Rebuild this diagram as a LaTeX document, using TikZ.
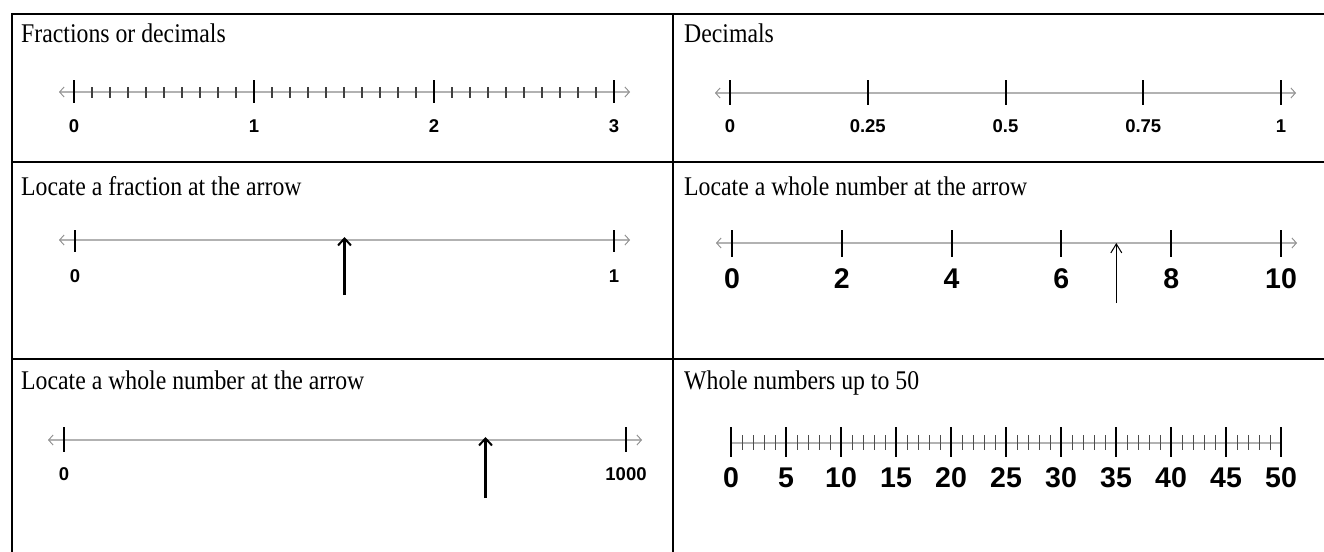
\documentclass[tikz,border=0pt]{standalone}
\usepackage{fontspec}
\usepackage{graphicx}
\setmainfont{Liberation Serif}
\newfontfamily\labfont{Liberation Sans}
\usetikzlibrary{arrows.meta}
\newcommand{\ttl}[1]{\scalebox{0.88}[1]{#1}}
\begin{document}
\begin{tikzpicture}[x=1pt,y=-1pt,
  gridline/.style={black,line width=2.5pt},
  numline/.style={draw=black!30,line width=2pt},
  endtips/.style={{Straight Barb[length=4.5pt,width=10pt,line width=0.9pt,color=black!45]}-{Straight Barb[length=4.5pt,width=10pt,line width=0.9pt,color=black!45]}},
  majortick/.style={black,line width=2pt},
  minortick/.style={black!75,line width=1.3pt},
  thinminor/.style={black!70,line width=1pt},
  titletext/.style={font=\fontsize{27}{32}\selectfont,anchor=base west,inner sep=0pt},
  smalllab/.style={font=\labfont\bfseries\fontsize{18.5}{20}\selectfont,anchor=base,inner sep=0pt},
  biglab/.style={font=\labfont\bfseries\fontsize{28.5}{30}\selectfont,anchor=base,inner sep=0pt},
  thickpointer/.style={black,line width=2.4pt,-{Straight Barb[length=7pt,width=13pt,line width=2pt]}},
  thinpointer/.style={black,line width=1pt,-{Straight Barb[length=9pt,width=11pt,line width=1pt]}}
]
\useasboundingbox (0,0) rectangle (1324,551);
\fill[white] (0,0) rectangle (1324,551);

% table grid
\draw[gridline] (12,14) -- (1330,14);
\draw[gridline] (12,162) -- (1330,162);
\draw[gridline] (12,359) -- (1330,359);
\draw[gridline] (12,13) -- (12,560);
\draw[gridline] (673,13) -- (673,560);

% titles
\node[titletext] (t1) at (21,42) {\ttl{Fractions or decimals}};
\node[titletext] (t2) at (684,42) {\ttl{Decimals}};
\node[titletext] (t3) at (21,195) {\ttl{Locate a fraction at the arrow}};
\node[titletext] (t4) at (684,195) {\ttl{Locate a whole number at the arrow}};
\node[titletext] (t5) at (21,389) {\ttl{Locate a whole number at the arrow}};
\node[titletext] (t6) at (684,389) {\ttl{Whole numbers up to 50}};

% ---- cell 1: 0 to 3 with tenths
\draw[numline,endtips] (59,92) -- (630,92);
\foreach \k in {0,1,2}{
  \foreach \i in {1,...,9}{
    \draw[minortick] ({74+180*\k+18*\i},87) -- ({74+180*\k+18*\i},98);
  }
}
\foreach \k/\lab in {0/0,1/1,2/2,3/3}{
  \draw[majortick] ({74+180*\k},80) -- ({74+180*\k},103);
  \node[smalllab] (a\k) at ({74+180*\k},132) {\lab};
}

% ---- cell 2: decimals
\draw[numline,endtips] (715,93) -- (1296,93);
\foreach \k/\lab in {0/0,1/0.25,2/0.5,3/0.75,4/1}{
  \draw[majortick] ({730+137.75*\k},80) -- ({730+137.75*\k},105);
  \node[smalllab] (b\k) at ({730+137.75*\k},132) {\lab};
}

% ---- cell 3: fraction at arrow
\draw[numline,endtips] (59,240) -- (630,240);
\draw[majortick] (75,230) -- (75,252);
\draw[majortick] (614,230) -- (614,252);
\node[smalllab] (c0) at (75,282) {0};
\node[smalllab] (c1) at (614,282) {1};
\coordinate (c3tail) at (344.5,295);
\coordinate (c3tip) at (344.5,237);
\draw[thickpointer] (c3tail) -- (c3tip);

% ---- cell 4: 0 to 10 by 2
\draw[numline,endtips] (716,243) -- (1297,243);
\foreach \k/\lab in {0/0,1/2,2/4,3/6,4/8,5/10}{
  \draw[majortick] ({732+109.8*\k},230) -- ({732+109.8*\k},257);
  \node[biglab] (d\k) at ({732+109.8*\k},288) {\lab};
}
\coordinate (d4tail) at (1116.3,303);
\coordinate (d4tip) at (1116.3,243);
\draw[thinpointer] (d4tail) -- (d4tip);

% ---- cell 5: 0 to 1000
\draw[numline,endtips] (48,440) -- (642,440);
\draw[majortick] (64,427) -- (64,452);
\draw[majortick] (626,427) -- (626,452);
\node[smalllab] (e0) at (64,480) {0};
\node[smalllab] (e1) at (626,480) {1000};
\coordinate (e5tail) at (485.5,498);
\coordinate (e5tip) at (485.5,437);
\draw[thickpointer] (e5tail) -- (e5tip);

% ---- cell 6: 0 to 50
\draw[numline] (731,443) -- (1281,443);
\foreach \k in {0,...,9}{
  \foreach \i in {1,...,4}{
    \draw[thinminor] ({731+55*\k+11*\i},435) -- ({731+55*\k+11*\i},450);
  }
}
\foreach \k/\lab in {0/0,1/5,2/10,3/15,4/20,5/25,6/30,7/35,8/40,9/45,10/50}{
  \draw[majortick] ({731+55*\k},427) -- ({731+55*\k},457);
  \node[biglab] (f\k) at ({731+55*\k},487) {\lab};
}
\end{tikzpicture}
\end{document}
